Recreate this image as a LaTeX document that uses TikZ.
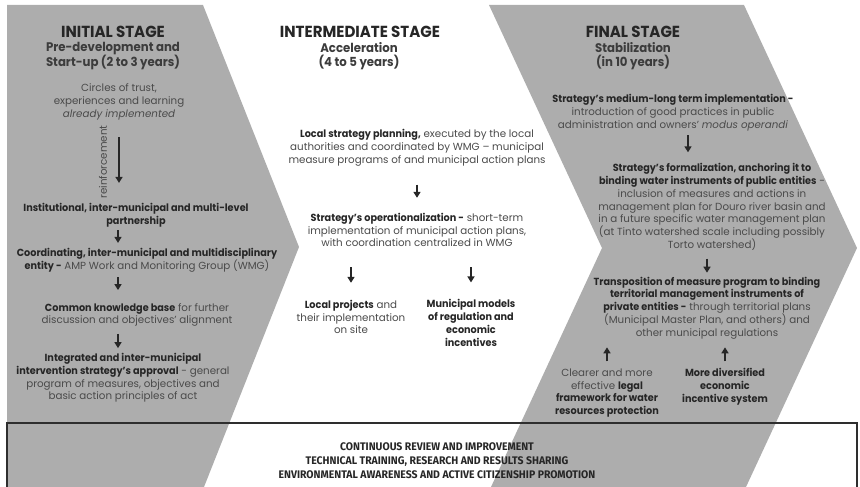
\documentclass[tikz,border=0pt]{standalone}
\usepackage{fontspec}
\setmainfont{Poppins}[BoldFeatures={FakeStretch=0.94}]
\newfontfamily\condfont[FakeStretch=0.95]{Fira Sans}
\usetikzlibrary{positioning, arrows.meta, calc}
\definecolor{stage}{HTML}{ADADAD}
\definecolor{ink}{HTML}{262626}
\definecolor{soft}{HTML}{4A4A4A}
\definecolor{frame}{HTML}{2E2E2E}
\newcommand{\keyterm}[1]{\textbf{\color{ink}#1}}

\begin{document}
\begin{tikzpicture}[x=1pt, y=-1pt,
  every node/.style={font=\fontsize{10.3}{12.8}\selectfont, text=soft, align=center, inner sep=0pt},
  title/.style={font=\fontsize{16}{18}\selectfont\bfseries, text=ink},
  sub/.style={font=\fontsize{12.5}{14}\selectfont\bfseries, text=ink!90},
  arrow/.style={-{Triangle[length=6pt, width=7pt]}, line width=2pt, ink},
  review/.style={font=\condfont\bfseries\fontsize{11}{14}\selectfont, text=ink},
  frameline/.style={draw=frame, line width=2.5pt}
]
  \useasboundingbox (0,0) rectangle (860,487);
  % stage bands
  \fill[stage] (7,5) -- (203,5) -- (299,247) -- (204,487) -- (7,487) -- cycle;
  \fill[stage] (489,5) -- (744,5) -- (857,248) -- (746,487) -- (491,487) -- (602,248) -- cycle;

  % initial stage
  \node[title] (title1) at (113,32) {INITIAL STAGE};
  \node[sub] (sub1) at (113,56) {Pre-development and\\Start-up (2 to 3 years)};
  \node (circles) at (119,102) {Circles of trust,\\experiences and learning\\\textit{already implemented}};
  \node[rotate=90] (reinf) at (103,162) {reinforcement};
  \node (inst) at (136,215) {\keyterm{Institutional, inter-municipal and multi-level}\\\keyterm{partnership}};
  \node (coord) at (147,260) {\keyterm{Coordinating, inter-municipal and multidisciplinary}\\\keyterm{entity -} AMP Work and Monitoring Group (WMG)};
  \node (common) at (137,315) {\keyterm{Common knowledge base} for further\\discussion and objectives' alignment};
  \node (integ) at (123,378) {\keyterm{Integrated and inter-municipal}\\\keyterm{intervention strategy's approval} - general\\program of measures, objectives and\\basic action principles of act};
  \coordinate (lcol) at (118,0);

  % intermediate stage
  \node[title] (title2) at (360,32) {INTERMEDIATE STAGE};
  \node[sub] (sub2) at (359,56) {Acceleration\\(4 to 5 years)};
  \node (plan) at (417,148) {\keyterm{Local strategy planning,} executed by the local\\authorities and coordinated by WMG -- municipal\\measure programs of and municipal action plans};
  \node (oper) at (417,230) {\keyterm{Strategy's operationalization -} short-term\\implementation of municipal action plans,\\with coordination centralized in WMG};
  \node (proj) at (351,317) {\keyterm{Local projects} and\\their implementation\\on site};
  \node (models) at (471,323) {\keyterm{Municipal models}\\\keyterm{of regulation and}\\\keyterm{economic}\\\keyterm{incentives}};

  % final stage
  \node[title] (title3) at (633,32) {FINAL STAGE};
  \node[sub] (sub3) at (633,56) {Stabilization\\(in 10 years)};
  \node (medium) at (673,113) {\keyterm{Strategy's medium-long term implementation -}\\introduction of good practices in public\\administration and owners' \textit{modus operandi}};
  \node (formal) at (712,207) {\keyterm{Strategy's formalization, anchoring it to}\\\keyterm{binding water instruments of public entities} -\\inclusion of measures and actions in\\management plan for Douro river basin and\\in a future specific water management plan\\(at Tinto watershed scale including possibly\\Torto watershed)};
  \node (transp) at (707,308) {\keyterm{Transposition of measure program to binding}\\\keyterm{territorial management instruments of}\\\keyterm{private entities -} through territorial plans\\(Municipal Master Plan, and others) and\\other municipal regulations};
  \node (legal) at (607,393) {Clearer and more\\effective \keyterm{legal}\\\keyterm{framework for water}\\\keyterm{resources protection}};
  \node (incent) at (725,387) {\keyterm{More diversified}\\\keyterm{economic}\\\keyterm{incentive system}};
  \coordinate (fcol) at (688,0);

  % continuous actions
  \coordinate (boxsw) at (7,500);
  \coordinate (boxne) at (857,423);
  \draw[frameline] (boxsw) |- (boxne) -- (boxne |- boxsw);
  \node[review] (review) at (437,461) {CONTINUOUS REVIEW AND IMPROVEMENT\\TECHNICAL TRAINING, RESEARCH AND RESULTS SHARING\\ENVIRONMENTAL AWARENESS AND ACTIVE CITIZENSHIP PROMOTION};

  % arrows
  \draw[arrow, shorten <=17pt, shorten >=20pt] (circles.south) -- (circles.south |- inst.north);
  \draw[arrow, shorten <=3pt, shorten >=5pt] (inst.south -| lcol) -- (coord.north -| lcol);
  \draw[arrow, shorten <=5pt, shorten >=13pt] (coord.south -| lcol) -- (common.north -| lcol);
  \draw[arrow, shorten <=7pt, shorten >=5pt] (common.south -| lcol) -- (integ.north -| lcol);
  \draw[arrow, shorten <=18pt, shorten >=15pt] (plan.south) -- (oper.north);
  \draw[arrow, shorten <=20pt, shorten >=17pt] (proj.north |- oper.south) -- (proj.north);
  \draw[arrow, shorten <=20pt, shorten >=17pt] (models.north |- oper.south) -- (models.north);
  \draw[arrow, shorten <=4pt, shorten >=11pt] (medium.south -| fcol) -- (formal.north -| fcol);
  \draw[arrow, shorten <=8pt, shorten >=4pt] (transp.north |- formal.south) -- (transp.north);
  \draw[arrow, shorten <=7pt, shorten >=8pt] (legal.north) -- (legal.north |- transp.south);
  \draw[arrow, shorten <=7pt, shorten >=8pt] (incent.north |- legal.north) -- (incent.north |- transp.south);
\end{tikzpicture}
\end{document}
